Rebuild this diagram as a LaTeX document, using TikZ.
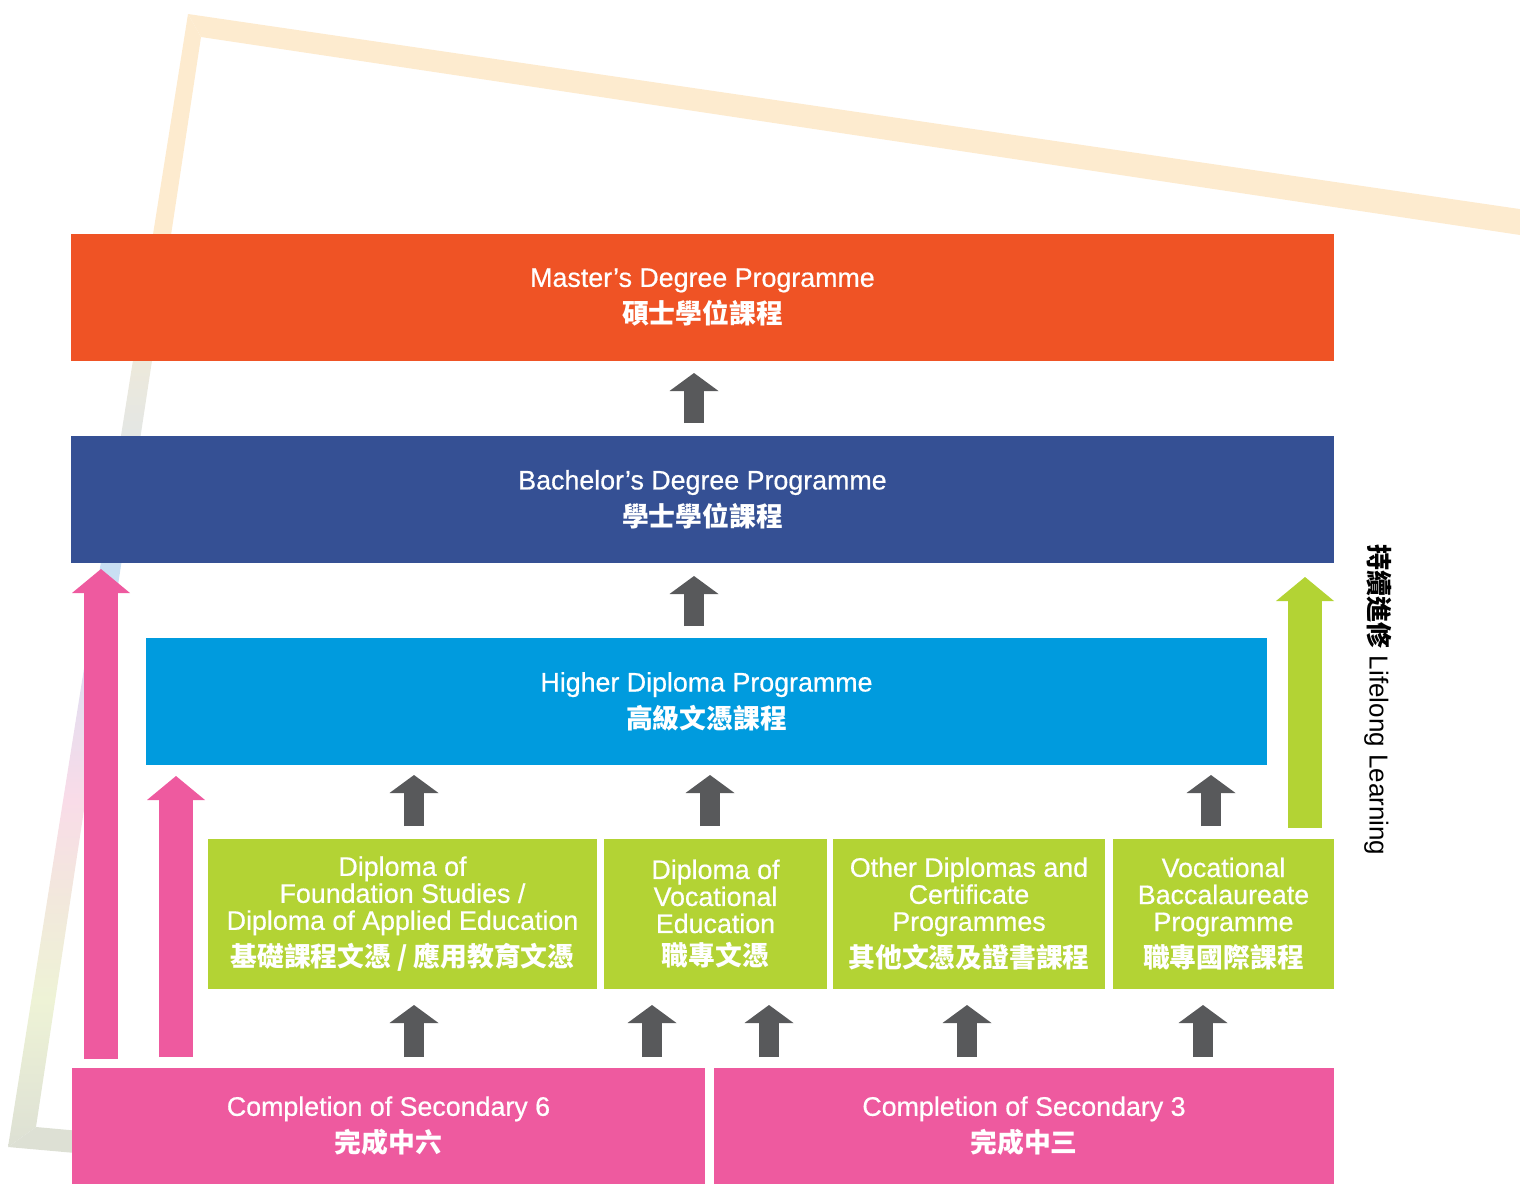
\documentclass[tikz,border=0pt]{standalone}
\usepackage{fontspec}
\setmainfont{Liberation Sans}[FakeBold=0.6]
\newfontfamily\plainfont{Liberation Sans}
\newfontfamily\cjk{Noto Sans CJK TC}
\newcommand{\zh}[1]{{\cjk\bfseries #1}}
\usetikzlibrary{arrows.meta,calc}

\definecolor{mastred}{HTML}{EF5325}
\definecolor{bachblue}{HTML}{355094}
\definecolor{hdblue}{HTML}{009BDE}
\definecolor{dipgreen}{HTML}{B3D334}
\definecolor{secpink}{HTML}{EE5A9F}
\definecolor{arrgray}{HTML}{58595B}
\definecolor{frameorange}{HTML}{FDEBCF}
\definecolor{framebeige}{HTML}{EDE9DB}
\definecolor{framesteel}{HTML}{E2E6E6}
\definecolor{frameblue}{HTML}{C8DFF3}
\definecolor{framelilac}{HTML}{E6DDEF}
\definecolor{framepink}{HTML}{F9DCE8}
\definecolor{framesand}{HTML}{F2E8DC}
\definecolor{framelime}{HTML}{EEF3D6}
\definecolor{framegray}{HTML}{DDE0D4}

\pgfdeclareverticalshading{framefade}{100bp}{color(0bp)=(framegray); color(25bp)=(framegray);
  color(31.5bp)=(framelime); color(35.9bp)=(framesand); color(40.3bp)=(framepink);
  color(44.7bp)=(framelilac); color(50.5bp)=(frameblue); color(55.8bp)=(framesteel);
  color(59.7bp)=(framebeige); color(64.6bp)=(frameorange); color(100bp)=(frameorange)}

\tikzset{
  box/.style={fill=#1, text=white, inner sep=0pt, outer sep=0pt, align=center,
    font=\fontsize{13.4pt}{13.5pt}\selectfont},
  grayarr/.style={draw=arrgray, line width=10pt,
    -{Triangle[width=24.5pt,length=9pt,line width=0pt]}},
  fatarr/.style={draw=#1, line width=17pt,
    -{Triangle[width=29pt,length=12pt,line width=0pt]}},
}

\begin{document}
\begin{tikzpicture}[x=0.5pt,y=-0.5pt]
    \useasboundingbox (0,0) rectangle (1520,1184);
    \clip (0,0) rectangle (1520,1184);

    % Draw tilted frame behind the chart
    \fill[frameorange] (188,14) -- (1540,212) -- (1540,238) -- (201,37) -- cycle;
    \shade[shading=framefade] (188,14) -- (201,37) -- (36,1127) -- (8,1147) -- cycle;
    \fill[framegray] (8,1147) -- (36,1127) -- (300,1151) -- (300,1173) -- cycle;

    % Draw degree levels
    \node[box=mastred, minimum width=631.5pt, minimum height=63.5pt] (mast) at (702.5,297.5)
        {Master’s Degree Programme\\[3pt]\zh{碩士學位課程}};
    \node[box=bachblue, minimum width=631.5pt, minimum height=63.5pt] (bach) at (702.5,499.5)
        {Bachelor’s Degree Programme\\[3pt]\zh{學士學位課程}};
    \node[box=hdblue, minimum width=560.5pt, minimum height=63.5pt] (hd) at (706.5,701.5)
        {Higher Diploma Programme\\[3pt]\zh{高級文憑課程}};

    % Draw diplomas
    \node[box=dipgreen, minimum width=194.5pt, minimum height=75pt] (fnd) at (402.5,914)
        {Diploma of\\Foundation Studies /\\Diploma of Applied Education\\[3pt]\zh{基礎課程文憑 / 應用教育文憑}};
    \node[box=dipgreen, minimum width=111.5pt, minimum height=75pt] (voc) at (715.5,914)
        {Diploma of\\Vocational\\Education\\[3pt]\zh{職專文憑}};
    \node[box=dipgreen, minimum width=136pt, minimum height=75pt] (oth) at (969,914)
        {Other Diplomas and\\Certificate\\Programmes\\[3pt]\zh{其他文憑及證書課程}};
    \node[box=dipgreen, minimum width=110.5pt, minimum height=75pt] (vb) at (1223.5,914)
        {Vocational\\Baccalaureate\\Programme\\[3pt]\zh{職專國際課程}};

    % Draw entry points
    \node[box=secpink, minimum width=316.5pt, minimum height=58pt] (sec6) at (388.5,1126)
        {Completion of Secondary 6\\[3pt]\zh{完成中六}};
    \node[box=secpink, minimum width=310pt, minimum height=58pt] (sec3) at (1024,1126)
        {Completion of Secondary 3\\[3pt]\zh{完成中三}};

    % Draw progression arrows
    \draw[grayarr] ($(bach.north)+(-8.5,-13)$) -- ($(mast.south)+(-8.5,12)$);
    \draw[grayarr] ($(hd.north)+(-12.5,-12)$) -- ($(bach.south)+(-8.5,13)$);
    \draw[grayarr] ($(fnd.north)+(11.5,-13)$) -- ($(hd.south)+(-292.5,10)$);
    \draw[grayarr] ($(voc.north)+(-5.5,-13)$) -- ($(hd.south)+(3.5,10)$);
    \draw[grayarr] ($(vb.north)+(-12.5,-13)$) -- ($(hd.south)+(504.5,10)$);
    \draw[grayarr] ($(sec6.north)+(25.5,-11)$) -- ($(fnd.south)+(11.5,16)$);
    \draw[grayarr] ($(sec6.north)+(263.5,-11)$) -- ($(voc.south)+(-63.5,16)$);
    \draw[grayarr] ($(sec3.north)+(-255,-11)$) -- ($(voc.south)+(53.5,16)$);
    \draw[grayarr] ($(sec3.north)+(-57,-11)$) -- ($(oth.south)+(-2,16)$);
    \draw[grayarr] ($(sec3.north)+(179,-11)$) -- ($(vb.south)+(-20.5,16)$);

    % Draw direct routes
    \draw[fatarr=secpink] ($(sec6.north west)+(29,-9)$) -- ($(bach.south west)+(30,6)$);
    \draw[fatarr=secpink] ($(sec6.north west)+(104,-11)$) -- ($(hd.south west)+(30,11)$);
    \draw[fatarr=dipgreen] ($(vb.north)+(81.5,-11)$) -- ($(bach.south east)+(-29,14)$);

    \node[rotate=-90, font=\plainfont\fontsize{13pt}{13.5pt}\selectfont] (life) at (1378,700)
        {\zh{持續進修} Lifelong Learning};
\end{tikzpicture}
\end{document}
